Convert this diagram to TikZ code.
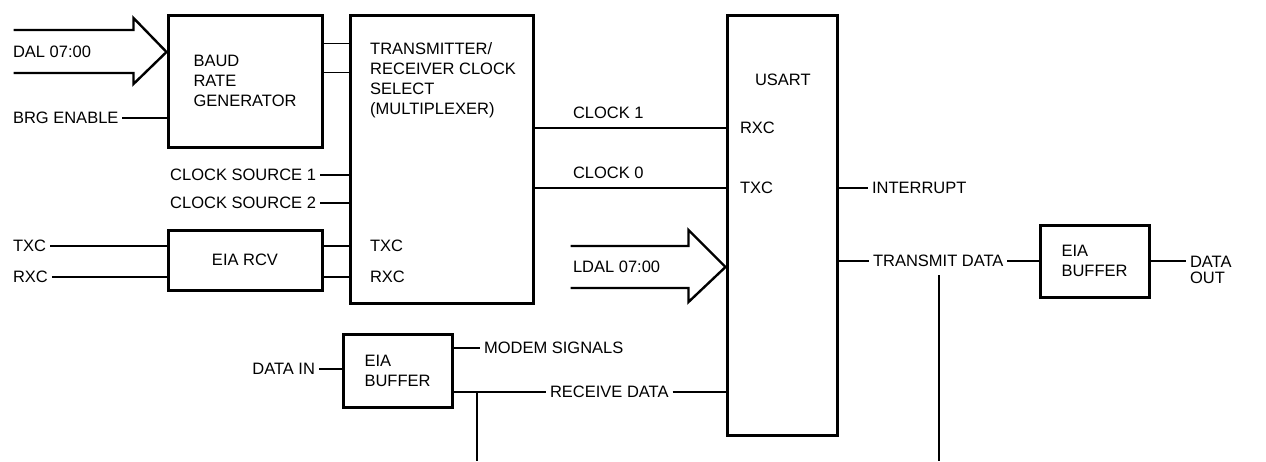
\documentclass[tikz,border=0pt]{standalone}
\usepackage{fontspec}
\setmainfont{Liberation Sans}
\usepackage{tikz}

\begin{document}
\begin{tikzpicture}[x=1pt,y=-1pt,every node/.style={font=\fontsize{16.5}{20}\selectfont},
  box/.style={draw,line width=3pt,inner sep=0pt,align=left},
  lbl/.style={inner sep=0pt,outer xsep=4pt,text height=11.8pt,text depth=0pt},
  wire/.style={line width=1.8pt},
  bus/.style={line width=2.4pt,line join=miter}]
\useasboundingbox (0,0) rectangle (1266,461);
\node[box,minimum width=154pt,minimum height=132pt] (brg) at (245,81) {BAUD\\RATE\\GENERATOR};
\node[box,minimum width=183pt,minimum height=288pt] (mux) at (441.5,159) {};
\node[box,minimum width=154pt,minimum height=60pt] (rcv) at (245,260) {EIA RCV};
\node[box,minimum width=110pt,minimum height=420pt] (usart) at (782,225) {};
\node[box,minimum width=109pt,minimum height=73pt] (bufin) at (397.5,370.5) {EIA\\BUFFER};
\node[box,minimum width=109pt,minimum height=72pt] (bufout) at (1094.5,261) {EIA\\BUFFER};
\node[lbl,anchor=west] (dal) at (9,52) {DAL 07:00};
\node[lbl,anchor=west] (enable) at (9,118) {BRG ENABLE};
\node[lbl,anchor=east] (src1) at (320,175) {CLOCK SOURCE 1};
\node[lbl,anchor=east] (src2) at (320,203) {CLOCK SOURCE 2};
\node[lbl,anchor=west] (txcin) at (9,246) {TXC};
\node[lbl,anchor=west] (rxcin) at (9,277) {RXC};
\node[anchor=north west,inner sep=0pt,align=left] (muxtext) at (370,42) {TRANSMITTER/\\RECEIVER CLOCK\\SELECT\\(MULTIPLEXER)};
\node[lbl,anchor=west] (muxtxc) at (366,246) {TXC};
\node[lbl,anchor=west] (muxrxc) at (366,277) {RXC};
\node[lbl,anchor=west] (clk1) at (569,113) {CLOCK 1};
\node[lbl,anchor=west] (clk0) at (569,173) {CLOCK 0};
\node[lbl,anchor=west] (usarttext) at (751,80) {USART};
\node[lbl,anchor=west] (urxc) at (736,128) {RXC};
\node[lbl,anchor=west] (utxc) at (736,188) {TXC};
\node[lbl,anchor=west] (ldal) at (569,267) {LDAL 07:00};
\node[lbl,anchor=west] (intr) at (868,188) {INTERRUPT};
\node[lbl,anchor=west] (txdata) at (869,261) {TRANSMIT DATA};
\node[inner sep=0pt,outer xsep=4pt,align=left,anchor=west,font=\fontsize{16.5}{16}\selectfont] (dout) at (1186,270) {DATA\\OUT};
\node[lbl,anchor=east] (datain) at (319,369) {DATA IN};
\node[lbl,anchor=west] (modem) at (480,348) {MODEM SIGNALS};
\node[lbl,anchor=west] (rxdata) at (546,392) {RECEIVE DATA};
\coordinate (brgout1) at ([yshift=-30pt]brg.north east);
\coordinate (brgout2) at ([yshift=-59pt]brg.north east);
\coordinate (daltip) at (brg.west |- dal);
\coordinate (ldtip) at (usart.west |- ldal);
\coordinate (rxtap) at (477,461);
\coordinate (txtap) at (939,461);
\draw[bus] (daltip) ++(-153,-22) -- ++(120,0) -- ++(0,-12) -- (daltip) -- ++(-33,32) -- ++(0,-11) -- ++(-120,0);
\draw[bus] (ldtip) ++(-155,-21) -- ++(118,0) -- ++(0,-16) -- (ldtip) -- ++(-37,35) -- ++(0,-14) -- ++(-118,0);
\draw[wire] (enable) -- (enable -| brg.west);
\draw[wire] (brgout1) -- (brgout1 -| mux.west);
\draw[wire] (brgout2) -- (brgout2 -| mux.west);
\draw[wire] (src1) -- (src1 -| mux.west);
\draw[wire] (src2) -- (src2 -| mux.west);
\draw[wire] (txcin) -- (txcin -| rcv.west);
\draw[wire] (rxcin) -- (rxcin -| rcv.west);
\draw[wire] (rcv.east |- muxtxc) -- (mux.west |- muxtxc);
\draw[wire] (rcv.east |- muxrxc) -- (mux.west |- muxrxc);
\draw[wire] (mux.east |- urxc) -- (usart.west |- urxc);
\draw[wire] (mux.east |- utxc) -- (usart.west |- utxc);
\draw[wire] (usart.east |- intr) -- (intr);
\draw[wire] (usart.east |- txdata) -- (txdata) -- (bufout);
\draw[wire] (bufout) -- (bufout -| dout.west);
\draw[wire] ([yshift=-14pt]txtap |- txdata) -- (txtap);
\draw[wire] (datain) -- (bufin.west |- datain);
\draw[wire] (bufin.east |- modem) -- (modem);
\draw[wire] (bufin.east |- rxdata) -- (rxdata) -- (rxdata -| usart.west);
\draw[wire] (rxtap |- rxdata) -- (rxtap);
\end{tikzpicture}
\end{document}
